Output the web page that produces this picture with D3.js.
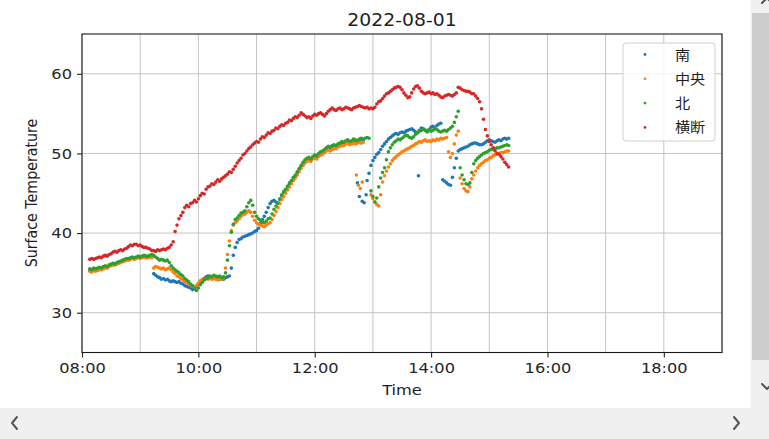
<!DOCTYPE html>
<html>
<head>
<meta charset="utf-8">
<script src="https://cdn.jsdelivr.net/npm/d3@7"></script>
<style>
  html, body { margin: 0; padding: 0; background: #fff; overflow: hidden; }
  svg { display: block; }
</style>
</head>
<body>
<svg id="chart" width="769" height="439"></svg>
<script>
// ---- data -------------------------------------------------------------
// Readings every 2 minutes starting at 08:08; null = no reading.
const chartTitle = "2022-08-01";
const startTime = "08:08";
const stepMinutes = 2;

const seriesNames = ["南", "中央", "北", "横断"];

const south = [
  35.3, 35.2, 35.4, 35.3, 35.4, 35.5, 35.5, 35.6, 35.7, 35.7,
  35.9, 36.0, 36.1, 36.1, 36.2, 36.3, 36.4, 36.5, 36.6, 36.7,
  36.7, 36.8, 36.9, 36.8, 36.9, 37.0, 36.9, 37.0, 37.1, 37.0,
  37.0, 37.1, 37.0, 34.9, 34.7, 34.5, 34.4, 34.2, 34.3, 34.1,
  34.2, 34.0, 33.9, 34.0, 33.9, 33.8, 33.9, 33.7, 33.6, 33.4,
  33.3, 33.2, 33.1, 32.9, 33.0, 33.3, 33.6, 33.9, 34.1, 34.3,
  34.5, 34.6, 34.5, 34.4, 34.3, 34.4, 34.3, 34.2, 34.3, 34.2,
  34.4, 34.5, 34.6, 35.6, 37.2, 38.2, 38.8, 39.2, 39.3, 39.5,
  39.6, 39.7, 39.8, 39.9, 40.0, 40.2, 40.3, 40.6, 41.2, 41.7,
  42.1, 42.6, 43.2, 43.7, 44.0, 44.1, 43.9, 43.7, 44.2, 44.7,
  45.1, 45.4, 45.8, 46.2, 46.5, 46.9, 47.2, 47.6, 48.0, 48.4,
  48.8, 49.1, 49.3, 49.4, 49.2, 49.5, 49.7, 49.6, 49.9, 50.1,
  50.2, 50.4, 50.6, 50.8, 50.7, 50.9, 51.0, 50.9, 51.1, 51.2,
  51.4, 51.3, 51.5, 51.6, 51.4, 51.5, 51.7, 51.6, 51.5, 51.7,
  51.8, 51.7, null, 46.6, 47.5, 48.5, 49.1, 49.5, 49.9, 50.1,
  50.5, 50.9, 51.2, 51.5, 51.8, 52.0, 52.2, 52.4, 52.5, 52.4,
  52.6, 52.7, 52.6, 52.8, 52.9, 53.0, 53.1, 52.9, 52.7, 52.6,
  52.9, 53.2, 53.1, 52.9, 52.8, 53.0, 53.3, 53.4, 53.2, 53.5,
  53.7, 53.8, 46.7, 46.5, 46.3, 46.1, 46.0, 47.0, 48.2, 49.4,
  50.3, 50.5, 50.6, 50.7, 50.8, 50.9, 51.1, 51.2, 51.3, 51.3,
  51.2, 51.1, 51.1, 51.2, 51.4, 51.6, 51.7, 51.6, 51.5, 51.4,
  51.6, 51.7, 51.6, 51.8, 51.9, 51.8, 51.9
];

const center = [
  35.2, 35.1, 35.3, 35.2, 35.3, 35.4, 35.4, 35.5, 35.6, 35.6,
  35.8, 35.9, 36.0, 36.0, 36.1, 36.2, 36.3, 36.4, 36.5, 36.6,
  36.6, 36.7, 36.8, 36.7, 36.8, 36.9, 36.8, 36.9, 37.0, 36.9,
  36.9, 37.0, 36.9, 35.6, 35.8, 35.7, 35.6, 35.5, 35.6, 35.4,
  35.5, 35.6, 35.4, 35.1, 34.9, 34.6, 34.5, 34.3, 34.1, 33.9,
  33.8, 33.6, 33.5, 33.3, 33.2, 33.4, 33.7, 34.0, 34.2, 34.1,
  34.3, 34.2, 34.3, 34.2, 34.3, 34.2, 34.1, 34.3, 34.2, 34.4,
  35.6, 37.3, 39.0, 40.3, 41.0, 41.3, 41.5, 41.8, 42.1, 42.3,
  42.4, 42.6, 42.8, 42.6, 42.1, 41.6, 41.3, 41.1, 41.0, 40.9,
  40.8, 41.0, 41.2, 41.3, 41.7, 42.2, 42.7, 43.2, 43.7, 44.2,
  44.6, 45.0, 45.4, 45.8, 46.2, 46.6, 46.9, 47.3, 47.7, 48.1,
  48.5, 48.8, 49.0, 49.1, 49.0, 49.3, 49.4, 49.3, 49.6, 49.8,
  49.9, 50.1, 50.3, 50.4, 50.3, 50.5, 50.6, 50.6, 50.8, 50.9,
  51.0, 51.0, 51.2, 51.3, 51.1, 51.2, 51.3, 51.2, 51.3, 51.4,
  51.3, 51.4, null, null, null, 44.8, 44.3, 43.9, 43.6, 43.4,
  44.8, 46.4, 47.2, 47.8, 48.3, 48.7, 49.1, 49.4, 49.6, 49.8,
  50.0, 50.2, 50.3, 50.5, 50.6, 50.7, 50.9, 51.0, 51.2, 51.3,
  51.5, 51.4, 51.6, 51.7, 51.5, 51.6, 51.5, 51.7, 51.6, 51.8,
  51.7, 51.9, 51.8, 51.9, 52.0, 50.2, 49.5, 50.0, 51.2, 52.3,
  52.8, 46.9, 46.2, 45.6, 45.3, 45.2, 45.8, 46.8, 47.3, 47.8,
  48.2, 48.5, 48.7, 48.9, 49.1, 49.2, 49.4, 49.5, 49.7, 49.8,
  49.9, 50.0, 50.1, 50.1, 50.2, 50.3, 50.3
];

const north = [
  35.5, 35.4, 35.6, 35.5, 35.6, 35.7, 35.6, 35.8, 35.9, 35.8,
  36.0, 36.1, 36.2, 36.1, 36.3, 36.4, 36.5, 36.6, 36.7, 36.8,
  36.8, 36.9, 37.0, 36.9, 37.0, 37.1, 37.0, 37.1, 37.2, 37.1,
  37.1, 37.2, 37.3, 37.2, 37.0, 36.8, 36.6, 36.7, 36.6, 36.5,
  36.6, 36.3, 35.9, 35.6, 35.4, 35.2, 35.0, 34.8, 34.6, 34.3,
  34.1, 33.9, 33.6, 33.4, 33.1, 32.8, 33.1, 33.5, 33.8, 34.1,
  34.3, 34.4, 34.6, 34.5, 34.7, 34.6, 34.5, 34.6, 34.4, 34.5,
  35.0, 36.6, 38.4, 40.1, 41.1, 41.7, 41.9, 42.2, 42.5, 42.6,
  42.8, 43.3, 43.8, 44.1, 43.5, 42.6, 42.1, 41.8, 41.6, 41.4,
  41.3, 41.5, 41.8, 41.9, 42.4, 43.0, 43.4, 43.8, 44.3, 44.8,
  45.2, 45.5, 45.9, 46.3, 46.6, 47.0, 47.3, 47.7, 48.1, 48.5,
  48.9, 49.2, 49.4, 49.5, 49.3, 49.6, 49.8, 49.7, 50.0, 50.2,
  50.3, 50.5, 50.7, 50.9, 50.8, 51.0, 51.1, 51.0, 51.2, 51.3,
  51.5, 51.4, 51.6, 51.7, 51.5, 51.6, 51.8, 51.7, 51.6, 51.8,
  51.9, 51.8, 51.9, 52.0, 51.9, 45.3, 44.6, 43.9, 44.4, 45.8,
  46.9, 47.6, 48.2, 49.2, 50.2, 50.7, 51.1, 51.4, 51.6, 51.8,
  51.7, 51.9, 52.1, 52.3, 52.2, 52.0, 51.9, 52.1, 52.4, 52.6,
  52.8, 52.9, 53.0, 52.9, 52.7, 53.0, 52.8, 52.9, 53.1, 53.0,
  52.8, 52.7, 52.8, 52.9, 52.8, 53.0, 53.2, 53.4, 53.9, 54.6,
  55.3, 48.2, 47.3, 46.7, 46.2, 46.1, 46.3, 47.6, 48.7, 49.1,
  49.4, 49.6, 49.8, 50.0, 50.1, 50.2, 50.4, 50.5, 50.5, 50.6,
  50.7, 50.7, 50.8, 50.9, 51.0, 51.1, 51.0
];

const crossing = [
  36.7, 36.8, 36.7, 36.8, 36.9, 37.0, 36.9, 37.1, 37.2, 37.1,
  37.3, 37.4, 37.6, 37.7, 37.6, 37.8, 37.9, 37.8, 38.0, 38.1,
  38.3, 38.5, 38.4, 38.6, 38.6, 38.4, 38.5, 38.3, 38.2, 38.2,
  38.1, 38.0, 37.8, 37.8, 37.7, 37.9, 37.8, 37.9, 38.0, 37.9,
  38.1, 38.2, 38.5, 38.9, 40.2, 41.0, 41.8, 42.2, 42.6, 43.2,
  43.5, 43.3, 43.7, 43.8, 44.1, 43.9, 44.3, 44.7, 45.0, 44.9,
  45.5, 45.8, 45.9, 46.2, 46.1, 46.4, 46.7, 46.5, 46.8, 47.0,
  47.2, 47.4, 47.7, 47.6, 48.0, 48.4, 48.8, 49.1, 49.4, 49.8,
  50.0, 50.3, 50.6, 50.8, 51.1, 51.3, 51.5, 51.4, 51.8, 52.1,
  52.0, 52.3, 52.6, 52.5, 52.8, 52.9, 53.2, 53.1, 53.4, 53.6,
  53.5, 53.8, 53.9, 54.2, 54.1, 54.4, 54.6, 54.5, 54.8, 55.1,
  54.9, 54.7, 54.5, 54.6, 54.4, 54.7, 54.9, 54.8, 55.0, 55.1,
  54.9, 54.7, 55.0, 55.3, 55.5, 55.7, 55.5, 55.4, 55.6, 55.7,
  55.5, 55.6, 55.8, 55.7, 55.6, 55.5, 55.7, 55.8, 55.9, 56.0,
  55.9, 55.8, 55.7, 55.8, 55.6, 55.7, 55.6, 55.8, 56.2, 56.5,
  56.6, 56.9, 57.2, 57.5, 57.6, 57.8, 58.0, 58.2, 58.3, 58.4,
  58.3, 58.0, 57.6, 57.3, 57.0, 57.1, 57.6, 58.1, 58.4, 58.5,
  58.2, 57.8, 57.6, 57.5, 57.6, 57.7, 57.5, 57.6, 57.4, 57.5,
  57.3, 57.1, 57.0, 57.2, 57.3, 57.4, 57.3, 57.2, 57.4, 57.6,
  58.3, 58.2, 58.0, 57.9, 57.8, 57.8, 57.7, 57.5, 57.5, 57.2,
  56.9, 56.5, 55.6, 54.3, 53.0, 52.2, 51.5, 51.1, 50.7, 50.3,
  50.0, 49.9, 49.6, 49.3, 48.9, 48.6, 48.3
];

// Readings taken off the regular 2-minute grid: [time, value]
const southExtra = [["12:44", 46.3], ["12:46", 44.6], ["12:49", 44.0], ["12:51", 43.8], ["12:53", 44.8], ["13:47", 47.2]];
const centerExtra = [["12:43", 47.3], ["12:45", 46.0], ["12:47", 45.6], ["12:49", 46.4]];

const xDomain = ["08:00", "19:00"];
const yDomain = [25, 65];
const xTickLabels = ["08:00", "10:00", "12:00", "14:00", "16:00", "18:00"];
const yTickValues = [30, 40, 50, 60];

// ---- layout & style ---------------------------------------------------
const colors = ["#1f77b4", "#ff7f0e", "#2ca02c", "#d62728"];
const plot = { left: 82, right: 722, top: 34, bottom: 352.5 };
const stretch = 1.12;               // text is slightly wider than tall
const font = "'DejaVu Sans', sans-serif";
const cjkFont = "'Noto Sans CJK JP', 'DejaVu Sans', sans-serif";

const svg = d3.select("#chart");
svg.append("rect").attr("width", 769).attr("height", 439).attr("fill", "#fff");

const day = hm => { const [h, m] = hm.split(":").map(Number); return new Date(2022, 7, 1, h, m); };

const x = d3.scaleTime().domain(xDomain.map(day)).range([plot.left, plot.right]);
const y = d3.scaleLinear().domain(yDomain).range([plot.bottom, plot.top]);

// gridlines: every hour on x, every labelled value on y
const grid = svg.append("g").attr("stroke", "#c4c4c4").attr("stroke-width", 1);
grid.selectAll("line.gx")
  .data(x.ticks(d3.timeHour.every(1)))
  .join("line")
  .attr("x1", d => x(d)).attr("x2", d => x(d))
  .attr("y1", plot.top).attr("y2", plot.bottom);
grid.selectAll("line.gy")
  .data(yTickValues)
  .join("line")
  .attr("x1", plot.left).attr("x2", plot.right)
  .attr("y1", d => y(d)).attr("y2", d => y(d));

// axes
const xAxis = d3.axisBottom(x)
  .tickValues(xTickLabels.map(day))
  .tickFormat((d, i) => xTickLabels[i])
  .tickSize(5).tickPadding(5);
const gx = svg.append("g").attr("transform", `translate(0,${plot.bottom})`).call(xAxis);

const yAxis = d3.axisLeft(y).tickValues(yTickValues).tickFormat(d3.format("d")).tickSize(5).tickPadding(5);
const gy = svg.append("g").attr("transform", `translate(${plot.left},0)`).call(yAxis);

[gx, gy].forEach(g => {
  g.select(".domain").remove();
  g.selectAll(".tick line").attr("stroke", "#222").attr("stroke-width", 1.1);
  g.selectAll(".tick text")
    .attr("fill", "#262626")
    .style("font-family", font)
    .style("font-size", "14.5px");
});
gx.selectAll(".tick text").attr("transform", `scale(${stretch},1)`);
gy.selectAll(".tick text").attr("x", -10 / stretch).attr("transform", `scale(${stretch},1)`);

// scatter points
const t0 = day(startTime);
function points(values, extra) {
  const pts = values
    .map((v, i) => ({ t: new Date(t0.getTime() + i * stepMinutes * 60000), v }))
    .filter(p => p.v !== null);
  (extra || []).forEach(([hm, v]) => pts.push({ t: day(hm), v }));
  return pts;
}
const seriesData = [points(south, southExtra), points(center, centerExtra), points(north), points(crossing)];

const marks = svg.append("g");
seriesData.forEach((pts, k) => {
  marks.append("g").attr("fill", colors[k])
    .selectAll("circle")
    .data(pts)
    .join("circle")
    .attr("cx", d => x(d.t))
    .attr("cy", d => y(d.v))
    .attr("r", 1.8);
});

// frame
svg.append("rect")
  .attr("x", plot.left).attr("y", plot.top)
  .attr("width", plot.right - plot.left).attr("height", plot.bottom - plot.top)
  .attr("fill", "none").attr("stroke", "#1a1a1a").attr("stroke-width", 1.1);

// text helper
function label(txt, px, py, size, opts = {}) {
  return svg.append("text")
    .attr("transform", `translate(${px},${py}) scale(${stretch},1)` + (opts.rotate ? ` rotate(${opts.rotate})` : ""))
    .attr("text-anchor", opts.anchor || "middle")
    .attr("fill", opts.fill || "#1e1e1e")
    .style("font-family", opts.family || font)
    .style("font-size", size + "px")
    .text(txt);
}

label(chartTitle, 402, 26, 16.8);
label("Time", 402, 395, 14.5);
label("Surface Temperature", 37, 193, 14.2, { rotate: -90 });

// legend
const legend = svg.append("g");
legend.append("rect")
  .attr("x", 623).attr("y", 43).attr("width", 92).attr("height", 98).attr("rx", 3)
  .attr("fill", "#fff").attr("fill-opacity", 0.8)
  .attr("stroke", "#d0d0d0").attr("stroke-width", 1);
seriesNames.forEach((name, k) => {
  const cy = 54.5 + k * 24.3;
  legend.append("circle").attr("cx", 645).attr("cy", cy).attr("r", 1.4).attr("fill", colors[k]);
  legend.append("text")
    .attr("transform", `translate(675,${cy + 5}) scale(${stretch},1)`)
    .attr("fill", "#1e1e1e")
    .style("font-family", cjkFont)
    .style("font-size", "13.5px")
    .text(name);
});

// surrounding scroll bars
const bars = svg.append("g");
bars.append("rect").attr("x", 751).attr("y", 0).attr("width", 18).attr("height", 408).attr("fill", "#f0f0f0");
bars.append("rect").attr("x", 752).attr("y", 13).attr("width", 17).attr("height", 347).attr("fill", "#cdcdcd");
bars.append("rect").attr("x", 0).attr("y", 408).attr("width", 769).attr("height", 31).attr("fill", "#f0f0f0");
const chevron = pts => bars.append("polyline")
  .attr("points", pts.map(p => p.join(",")).join(" "))
  .attr("fill", "none").attr("stroke", "#555").attr("stroke-width", 2)
  .attr("stroke-linecap", "round").attr("stroke-linejoin", "round");
chevron([[17, 417], [12, 423], [17, 429]]);
chevron([[734, 417], [739, 423], [734, 429]]);
chevron([[762, 384], [767, 389], [772, 384]]);
chevron([[762, 3], [767, -2], [772, 3]]);
</script>
</body>
</html>
